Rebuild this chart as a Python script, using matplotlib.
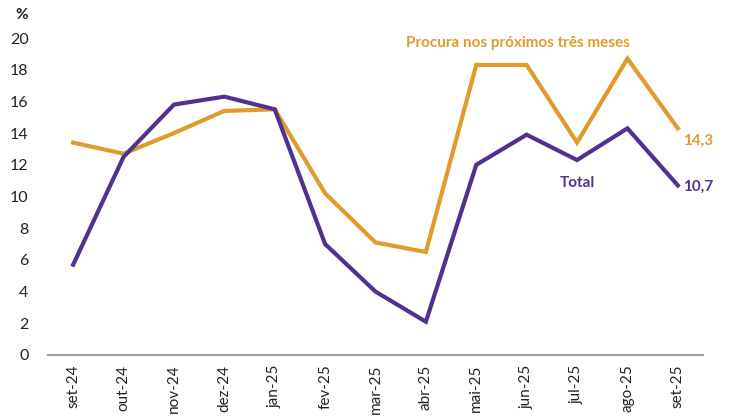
import matplotlib
matplotlib.use("Agg")
import matplotlib.pyplot as plt

months = ["set-24", "out-24", "nov-24", "dez-24", "jan-25", "fev-25", "mar-25",
          "abr-25", "mai-25", "jun-25", "jul-25", "ago-25", "set-25"]
total = [5.7, 12.5, 15.8, 16.3, 15.5, 7.0, 4.0, 2.1, 12.0, 13.9, 12.3, 14.3, 10.7]
procura = [13.4, 12.7, 14.0, 15.4, 15.5, 10.2, 7.1, 6.5, 18.3, 18.3, 13.4, 18.7, 14.3]
yticks = [0, 2, 4, 6, 8, 10, 12, 14, 16, 18, 20]

PURPLE = "#51308F"
ORANGE = "#E09B2C"
FONT = ["Lato", "DejaVu Sans"]

W, H = 729, 416
fig = plt.figure(figsize=(W / 100, H / 100), dpi=100)
ax = fig.add_axes([48 / W, 1 - 355 / H, (703 - 48) / W, (355 - 38) / H])

x = list(range(len(months)))
ax.plot(x, procura, color=ORANGE, lw=3, solid_joinstyle="miter")
ax.plot(x, total, color=PURPLE, lw=3, solid_joinstyle="miter")

ax.set_xlim(-0.5, len(months) - 0.5)
ax.set_ylim(0, 20)
ax.set_yticks(yticks)
ax.set_yticklabels([str(v) for v in yticks], family=FONT, fontsize=11.5, color="#222222")
ax.set_xticks(x)
ax.set_xticklabels(months, rotation=90, family=FONT, fontsize=11, color="#222222")
ax.tick_params(axis="both", length=0)
ax.tick_params(axis="y", pad=14)
ax.tick_params(axis="x", pad=7)

for side in ["top", "right", "left"]:
    ax.spines[side].set_visible(False)
ax.spines["bottom"].set_color("#A0A0A0")
ax.spines["bottom"].set_linewidth(1.5)

fig.text(22 / W, 1 - 15 / H, "%", family=FONT, fontsize=11, fontweight="bold",
         ha="center", va="center", color="#222222")

ax.text(6.6, 19.7, "Procura nos próximos três meses", family=FONT, fontsize=11,
        fontweight="bold", color=ORANGE, ha="left", va="center")
ax.text(10.0, 10.85, "Total", family=FONT, fontsize=11, fontweight="bold",
        color=PURPLE, ha="center", va="center")
ax.text(12.1, procura[-1] - 0.8, f"{procura[-1]:.1f}".replace(".", ","), family=FONT,
        fontsize=11, fontweight="bold", color=ORANGE, ha="left", va="center")
ax.text(12.1, total[-1] - 0.1, f"{total[-1]:.1f}".replace(".", ","), family=FONT,
        fontsize=11, fontweight="bold", color=PURPLE, ha="left", va="center")

fig.savefig("out.png", dpi=100)
